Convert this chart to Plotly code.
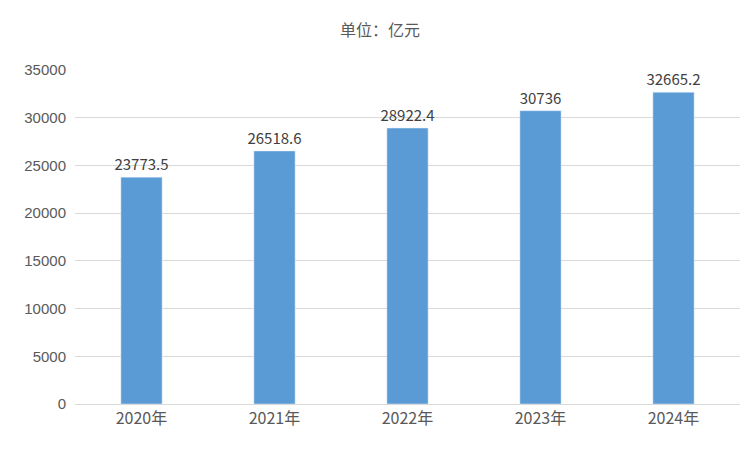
import plotly.graph_objects as go

categories = ["2020年", "2021年", "2022年", "2023年", "2024年"]
values = [23773.5, 26518.6, 28922.4, 30736, 32665.2]
labels = ["23773.5", "26518.6", "28922.4", "30736", "32665.2"]

fig = go.Figure(go.Bar(
    x=categories, y=values, text=labels, textposition="outside",
    marker_color="#5B9BD5", textfont=dict(size=15, color="#404040"),
    constraintext="none", cliponaxis=False,
))
fig.update_layout(
    width=744, height=444,
    margin=dict(l=67, r=12, t=62, b=48),
    paper_bgcolor="white", plot_bgcolor="white",
    bargap=0.69,
    font=dict(family="Noto Sans CJK SC, Liberation Sans", color="#595959"),
    title=dict(text="单位：亿元", x=0.5, y=0.95, xanchor="center", yanchor="middle",
               font=dict(size=16, color="#595959")),
    showlegend=False,
)
fig.update_yaxes(range=[0, 35000], dtick=5000, tickformat="d", gridcolor="#D9D9D9", zeroline=False,
                 tickfont=dict(size=15, family="Liberation Sans", color="#595959"),
                 ticks="", ticklabelstandoff=8)
fig.update_xaxes(showline=True, linecolor="#D9D9D9", tickfont=dict(size=16, color="#595959"))
fig.write_html("out.html")
